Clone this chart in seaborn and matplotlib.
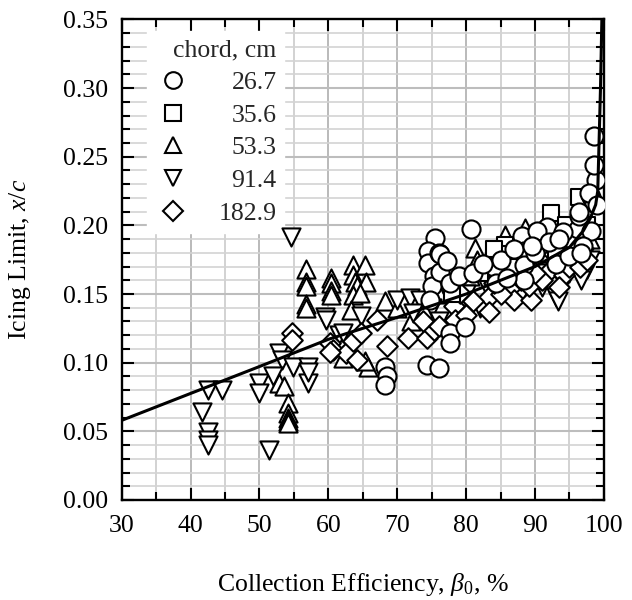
import numpy as np
import pandas as pd
import matplotlib
matplotlib.use("Agg")
import matplotlib.pyplot as plt
from matplotlib.lines import Line2D
from matplotlib.ticker import MultipleLocator
import seaborn as sns

# ---------------- data ----------------
chords = ["26.7", "35.6", "53.3", "91.4", "182.9"]

c267_x = [68.2, 68.5, 68.2, 74.3, 76.1, 75.5, 74.5, 74.5, 76.0, 75.3, 75.0, 74.8, 76.2, 76.2, 77.2, 77.7,
          77.7, 77.7, 79.9, 80.7, 84.0, 84.3, 88.1, 88.4, 88.4, 88.4, 91.3, 91.8, 90.3, 95.2, 96.2, 96.4,
          98.1, 98.1, 98.6, 98.8, 98.6, 98.6, 97.9, 96.4, 79.0, 81.0, 85.0, 87.0, 90.0, 92.0, 93.0, 94.0,
          95.0, 97.0, 99.0, 96.7, 86.0, 89.5, 93.5, 82.5]
c267_y = [0.097, 0.090, 0.084, 0.098, 0.096, 0.191, 0.181, 0.1725, 0.180, 0.163, 0.1555, 0.146, 0.179, 0.166, 0.174, 0.158,
          0.1215, 0.114, 0.126, 0.197, 0.170, 0.158, 0.192, 0.181, 0.171, 0.160, 0.191, 0.199, 0.196, 0.190, 0.197, 0.2066,
          0.196, 0.221, 0.216, 0.233, 0.265, 0.244, 0.2236, 0.2095, 0.163, 0.165, 0.175, 0.183, 0.180, 0.188, 0.172, 0.195,
          0.178, 0.185, 0.215, 0.180, 0.162, 0.185, 0.190, 0.172]

c356_x = [85.7, 85.7, 92.3, 96.4, 90.0, 94.5, 87.0, 82.0, 97.5, 93.0, 78.0, 84.0]
c356_y = [0.186, 0.179, 0.209, 0.221, 0.190, 0.200, 0.170, 0.165, 0.200, 0.180, 0.150, 0.183]

c533_x = [56.8, 56.8, 56.8, 56.8, 56.8, 52.8, 53.6, 54.1, 54.1, 54.1, 54.1, 54.1,
          60.4, 60.4, 60.4, 60.4, 63.6, 65.3, 63.6, 63.8, 64.1, 65.5, 63.6, 63.3, 64.6,
          62.1, 65.8, 68.2, 72.8, 65.3, 81.3, 81.6, 80.6, 85.7, 83.5, 88.6, 95.4,
          70.0, 72.0, 78.0, 86.0, 90.0, 92.0, 94.0, 96.0, 98.0, 79.0, 76.0, 74.0, 84.5, 91.0]
c533_y = [0.168, 0.159, 0.156, 0.143, 0.140, 0.085, 0.083, 0.0705, 0.063, 0.060, 0.0575, 0.056,
          0.162, 0.158, 0.152, 0.149, 0.171, 0.171, 0.164, 0.159, 0.1555, 0.159, 0.1495, 0.1385, 0.151,
          0.1033, 0.097, 0.1446, 0.136, 0.101, 0.1835, 0.175, 0.163, 0.193, 0.180, 0.198, 0.181,
          0.140, 0.130, 0.160, 0.165, 0.175, 0.180, 0.170, 0.190, 0.190, 0.145, 0.150, 0.140, 0.170, 0.186]

c914_x = [54.6, 42.5, 44.5, 41.6, 42.5, 42.5, 42.5, 51.4, 50.0, 50.0, 52.8, 53.3, 51.9, 54.8, 57.0, 57.0, 57.0,
          59.5, 59.7, 61.6, 62.1, 64.8, 69.9, 71.9, 73.3, 72.3, 93.0, 93.3, 97.1, 97.6, 96.6,
          75.0, 78.0, 80.0, 83.0, 86.0, 89.0, 91.0, 95.0, 98.0, 76.0, 88.0, 94.0, 82.0, 90.5, 96.0]
c914_y = [0.1915, 0.080, 0.080, 0.0644, 0.0498, 0.0438, 0.040, 0.0365, 0.0853, 0.078, 0.107, 0.102, 0.090, 0.097, 0.097, 0.085, 0.093,
          0.133, 0.131, 0.120, 0.1215, 0.134, 0.146, 0.147, 0.146, 0.136, 0.148, 0.1446, 0.177, 0.168, 0.160,
          0.140, 0.145, 0.150, 0.155, 0.155, 0.160, 0.155, 0.165, 0.175, 0.130, 0.150, 0.158, 0.140, 0.165, 0.172]

c1829_x = [54.75, 54.75, 60.2, 60.7, 62.6, 63.6, 64.1, 67.0, 68.5, 64.8, 60.2,
           71.6, 74.3, 75.3, 73.8, 78.2, 79.1, 78.4, 83.3, 83.3, 86.7, 86.9, 89.4, 89.1,
           92.3, 92.8, 94.2, 81.0, 85.0, 88.0, 91.0, 95.0, 96.5, 97.5, 76.0, 80.0, 90.0, 84.0, 93.5]
c1829_y = [0.1215, 0.1167, 0.114, 0.109, 0.107, 0.1155, 0.102, 0.131, 0.112, 0.1215, 0.108,
           0.118, 0.118, 0.124, 0.130, 0.141, 0.151, 0.131, 0.148, 0.137, 0.1555, 0.146, 0.146, 0.1555,
           0.168, 0.179, 0.164, 0.145, 0.150, 0.160, 0.160, 0.170, 0.170, 0.175, 0.127, 0.135, 0.165, 0.158, 0.155]

curve_x = [30, 40, 50, 60, 70, 80, 90, 95, 97, 98, 98.8, 99.1, 99.3, 99.5, 99.7]
curve_y = [0.058, 0.0776, 0.0972, 0.117, 0.133, 0.150, 0.170, 0.184, 0.196, 0.205, 0.215, 0.225, 0.262, 0.300, 0.350]

x_ticks = [30, 40, 50, 60, 70, 80, 90, 100]
y_ticks = [0.00, 0.05, 0.10, 0.15, 0.20, 0.25, 0.30, 0.35]

# ---------------- build table ----------------
series = {
    "53.3": (c533_x, c533_y),
    "91.4": (c914_x, c914_y),
    "182.9": (c1829_x, c1829_y),
    "35.6": (c356_x, c356_y),
    "26.7": (c267_x, c267_y),
}
rows = []
for k, (xs, ys) in series.items():
    for a, b in zip(xs, ys):
        rows.append({"beta": a, "xc": b, "chord": k})
df = pd.DataFrame(rows)

markers = {"26.7": "o", "35.6": "s", "53.3": "^", "91.4": "v", "182.9": "D"}
sizes = {"o": 170, "s": 130, "^": 170, "v": 170, "D": 110}

sns.set_theme(style="ticks")
plt.rcParams["font.family"] = ["Liberation Serif", "DejaVu Serif"]
plt.rcParams["mathtext.fontset"] = "custom"
plt.rcParams["mathtext.rm"] = "Liberation Serif"
plt.rcParams["mathtext.it"] = "Liberation Serif:italic"

FS = 18.5
fig = plt.figure(figsize=(6.32, 6.0), dpi=100)
ax = fig.add_axes([0.1926, 0.1667, 0.763, 0.801])

for k in ["53.3", "91.4", "182.9", "35.6", "26.7"]:
    sub = df[df["chord"] == k]
    sns.scatterplot(data=sub, x="beta", y="xc", marker=markers[k], s=sizes[markers[k]],
                    color="white", edgecolor="black", linewidth=1.5, ax=ax, legend=False, zorder=3)

sns.lineplot(x=curve_x, y=curve_y, color="black", lw=2.2, ax=ax, zorder=4, sort=False)

ax.set_xlim(30, 100)
ax.set_ylim(0, 0.35)
ax.set_xticks(x_ticks)
ax.set_yticks(y_ticks)
ax.set_xticklabels([str(v) for v in x_ticks])
ax.set_yticklabels([f"{v:.2f}" for v in y_ticks])
ax.xaxis.set_minor_locator(MultipleLocator(5))
ax.yaxis.set_minor_locator(MultipleLocator(0.01))

ax.grid(which="major", axis="x", color="#b4b4b4", lw=1.3, zorder=0)
ax.grid(which="minor", axis="x", color="#cfcfcf", lw=1.3, zorder=0)
ax.grid(which="major", axis="y", color="#bdbdbd", lw=1.5, zorder=0)
ax.grid(which="minor", axis="y", color="#d3d3d3", lw=1.2, zorder=0)
ax.set_axisbelow(True)

ax.tick_params(which="both", direction="in", top=True, right=True, width=1.5, color="black",
               labelsize=FS, labelcolor="black")
ax.tick_params(which="major", length=8.5)
ax.tick_params(which="minor", length=6)
ax.tick_params(axis="x", pad=11)
ax.tick_params(axis="y", pad=10)
for sp in ax.spines.values():
    sp.set_color("black")
    sp.set_linewidth(1.7)

ax.set_xlabel(r"Collection Efficiency, $\beta_{\mathit{0}}$, %", fontsize=FS, color="black")
ax.set_ylabel(r"Icing Limit, $x/c$", fontsize=FS, color="black")
ax.xaxis.set_label_coords(0.5, -0.148)
ax.yaxis.set_label_coords(-0.185, 0.5)

handles = [Line2D([], [], ls="none", marker=markers[k], markersize=12 if markers[k] != "D" else 10,
                  markerfacecolor="white", markeredgecolor="black", markeredgewidth=1.5) for k in chords]
leg = ax.legend(handles, chords, title="chord, cm", loc="upper left", bbox_to_anchor=(0.052, 0.975),
                borderaxespad=0.0, fontsize=FS, title_fontsize=FS, frameon=True, fancybox=False,
                framealpha=1, edgecolor="white", facecolor="white", labelspacing=0.38,
                handletextpad=1.07, borderpad=0.3, handlelength=1.43)
leg.set_zorder(2.5)
leg._legend_box.align = "right"
fig.canvas.draw()
widths = [t.get_window_extent().width for t in leg.get_texts()]
shift = max(widths)
for t, w in zip(leg.get_texts(), widths):
    t.set_ha("left")
    t.set_position((shift - w, 0))

fig.savefig("out.png", dpi=100)
